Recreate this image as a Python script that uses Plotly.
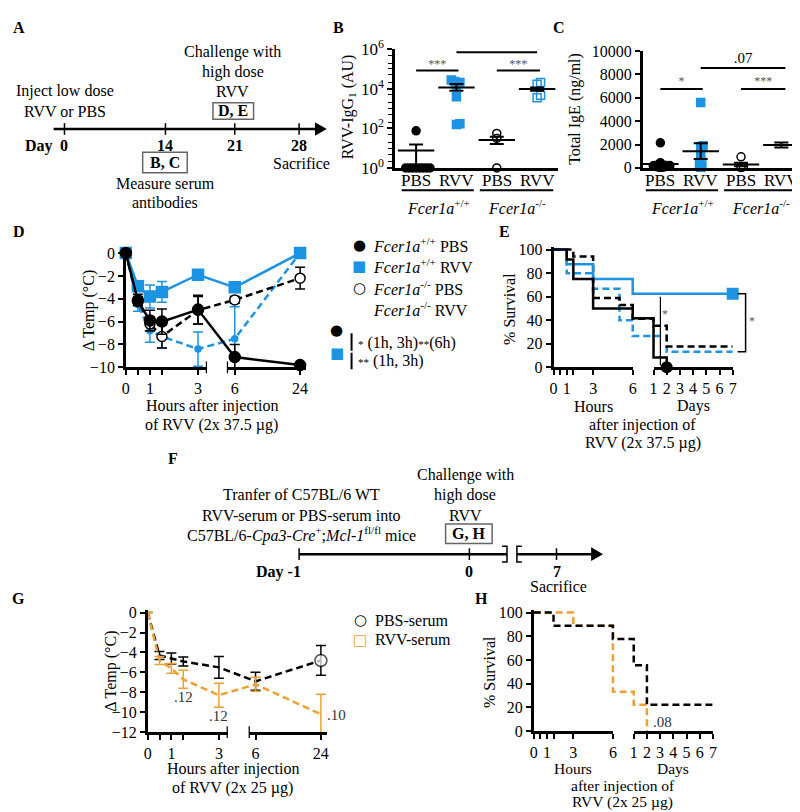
import math
import plotly.graph_objects as go

W, H = 800, 812
FONT = "Liberation Serif"
BLUE = "#1d93e3"
ORANGE = "#f0a030"
STAR = "#555555"

# ---------------- data ----------------
group_labels = ["PBS", "RVV", "PBS", "RVV"]
genotype_labels = ["<i>Fcer1a</i><sup>+/+</sup>", "<i>Fcer1a</i><sup>-/-</sup>"]

# B: RVV-IgG1 (AU)
igg1_wt_pbs = [1, 1, 1, 1, 1, 1, 1, 1, 75]
igg1_wt_rvv = [27600, 23000, 20600, 15700, 3900, 158, 170]
igg1_ko_pbs = [55, 31, 1]
igg1_ko_rvv = [20600, 17000, 4700, 3500]
igg1_mean = [7.6, 11700, 26, 9600]
igg1_upper = [15, 17500, 38, 11700]
igg1_lower = [1, 7900, 16, 7900]
igg1_p = ["***", "***", ".66"]

# C: total IgE (ng/ml)
ige_wt_pbs = [2150, 450, 250, 200, 180, 150, 120, 100, 80, 60, 50]
ige_wt_rvv = [5600, 1900, 1800, 1100, 600, 300, 250, 60]
ige_ko_pbs = [950, 100, 30]
ige_ko_rvv = []
ige_mean = [330, 1420, 290, 1950]
ige_upper = [520, 2100, 450, 2170]
ige_lower = [150, 750, 130, 1750]
ige_p = ["*", "***", ".07"]

# D: delta temperature after RVV 2x37.5 ug
d_hours = [0, 0.5, 1, 1.5, 3, 6, 24]
d_wt_pbs = [0, -4.2, -5.9, -6.0, -4.95, -9.1, -9.8]
d_wt_pbs_err = [0, 0.4, 0.9, 1.1, 1.25, 1.1, 0.15]
d_wt_rvv = [0, -2.9, -3.8, -3.4, -1.9, -3.0, 0]
d_wt_rvv_err = [0, 0.3, 1.0, 0.9, 0.2, 0.4, 0]
d_ko_pbs = [0, -4.1, -6.2, -7.3, -5.0, -4.1, -2.2]
d_ko_pbs_err = [0, 0.5, 0.6, 1.0, 1.2, 0.3, 0.95]
d_ko_rvv = [0, -4.5, -6.8, -7.3, -8.4, -7.5, 0]
d_ko_rvv_err = [0, 0.6, 1.0, 1.0, 1.5, 2.8, 0]
d_names = ["<i>Fcer1a</i><sup>+/+</sup> PBS", "<i>Fcer1a</i><sup>+/+</sup> RVV",
           "<i>Fcer1a</i><sup>-/-</sup> PBS", "<i>Fcer1a</i><sup>-/-</sup> RVV"]

# E: survival (times in hours)
e_wt_pbs_t = [0, 1, 1.5, 3, 6, 24, 48]
e_wt_pbs_s = [100, 91.7, 75, 50, 41.7, 8.3, 0]
e_wt_rvv_t = [0, 1, 3, 6, 168]
e_wt_rvv_s = [100, 87.5, 75, 62.5, 62.5]
e_ko_pbs_t = [0, 1.5, 3, 5, 6, 24, 48, 168]
e_ko_pbs_s = [100, 94.1, 58.8, 52.9, 41.2, 35.3, 17.6, 17.6]
e_ko_rvv_t = [0, 1, 3, 5, 6, 48, 168]
e_ko_rvv_s = [100, 80, 66.7, 40, 26.7, 13.3, 13.3]

# G: delta temperature after serum transfer, RVV 2x25 ug
g_hours = [0, 0.5, 1, 1.5, 3, 6, 24]
g_pbs = [0, -4.3, -4.6, -4.9, -5.5, -6.9, -4.8]
g_pbs_err = [0, 0.4, 0.55, 0.45, 1.1, 0.9, 1.5]
g_rvv = [0, -4.8, -5.6, -6.7, -8.3, -7.2, -10.2]
g_rvv_err = [0, 0.4, 0.5, 0.9, 1.2, 0.7, 2.0]
g_p = [".12", ".12", ".10"]
g_names = ["PBS-serum", "RVV-serum"]

# H: survival after serum transfer (hours)
h_pbs_t = [0, 1.5, 6, 24, 48, 168]
h_pbs_s = [100, 88.9, 77.8, 55.6, 22.2, 22.2]
h_rvv_t = [0, 3, 6, 24, 48]
h_rvv_s = [100, 88.9, 33.3, 22.2, 0]
h_p = ".08"

# timelines
a_days = ["0", "14", "21", "28"]
f_days = ["-1", "0", "7"]

# ---------------- helpers ----------------
def dx(a, b):
    return [a / W, b / W]

def dy(top, bottom):
    return [1 - bottom / H, 1 - top / H]

annotations = []
shapes = []
traces = []

def A(x, y, text, size=16, xanchor="center", yanchor="middle", color="black",
      angle=0, family=FONT, xref="paper", yref="paper"):
    if xref == "paper":
        x = x / W
    if yref == "paper":
        y = 1 - y / H
    annotations.append(dict(x=x, y=y, xref=xref, yref=yref, text=text, showarrow=False,
                            xanchor=xanchor, yanchor=yanchor, textangle=angle, borderpad=0,
                            font=dict(family=family, size=size, color=color)))

def L(x0, y0, x1, y1, w=2, color="black"):
    shapes.append(dict(type="line", xref="paper", yref="paper", x0=x0 / W, y0=1 - y0 / H,
                       x1=x1 / W, y1=1 - y1 / H, line=dict(color=color, width=w)))

def R(x0, y0, x1, y1):
    shapes.append(dict(type="rect", xref="paper", yref="paper", x0=x0 / W, y0=1 - y0 / H,
                       x1=x1 / W, y1=1 - y1 / H, line=dict(color="#666666", width=1.5)))

def path(pts, fill=None, w=2):
    d = "M " + " L ".join(f"{x / W:.5f},{1 - y / H:.5f}" for x, y in pts)
    if fill:
        d += " Z"
    shapes.append(dict(type="path", xref="paper", yref="paper", path=d,
                       fillcolor=fill if fill else "rgba(0,0,0,0)",
                       line=dict(color="black", width=0 if fill else w)))

AX = dict(showline=True, linecolor="black", linewidth=2.5, ticks="outside", ticklen=5,
          tickwidth=2, tickcolor="black", showgrid=False, zeroline=False,
          tickfont=dict(family=FONT, size=16, color="black"))

def ax(**kw):
    d = dict(AX)
    d.update(kw)
    return d

MINOR_HALF = dict(tickvals=[0.5, 1.5], ticks="outside", ticklen=5, tickwidth=2, tickcolor="black",
                  showgrid=False)

# broken-axis scales (pixel offset from axis origin)
def d_t(h):
    return 24.3 * h if h <= 3.5 else 110 + (h - 6) * 3.667

def g_t(h):
    return 24.0 * h if h <= 3.5 else 109 + (h - 6) * 3.667

def s_t(h):
    return 13.33 * h if h <= 6 else 101 + 13.33 * (h / 24 - 1)

def swarm(values, center, to_py, px_per_x, diam):
    placed, offs = [], [None] * len(values)
    for i in sorted(range(len(values)), key=lambda j: values[j]):
        yp = to_py(values[i])
        k = 0
        while True:
            cands = [0] if k == 0 else [k * diam / 2, -k * diam / 2]
            ok = None
            for c in cands:
                if all((c - xo) ** 2 + (yp - yo) ** 2 >= diam ** 2 for xo, yo in placed):
                    ok = c
                    break
            if ok is not None:
                break
            k += 1
        placed.append((ok, yp))
        offs[i] = center + ok / px_per_x
    return offs

# ---------------- panel A (timeline) ----------------
A(7, 8, "<b>A</b>")
A(54, 73, "Inject low dose")
A(54, 94, "RVV or PBS")
A(223, 33, "Challenge with")
A(223, 53, "high dose")
A(223, 73, "RVV")
R(203, 85, 244, 102)
A(223.5, 93.5, "<b>D, E</b>")
L(42, 112, 308, 112, w=2.5)
path([(306, 105), (318, 112), (306, 119)], fill="black")
a_pos = [53, 155, 225, 290]
for lab, xp in zip(a_days, a_pos):
    L(xp, 106, xp, 118, w=1.5)
    A(xp, 129, f"<b>{lab}</b>")
A(27, 129, "<b>Day</b>")
R(132, 136, 177, 157)
A(154.5, 146.5, "<b>B, C</b>")
A(155, 168, "Measure serum")
A(155, 188, "antibodies")
A(292, 147, "Sacrifice")

# ---------------- panel B ----------------
A(330, 8, "<b>B</b>")
B_ppx = (552 - 387) / (3.53 + 0.52)
B_py = lambda v: 152 - 20.33 * math.log10(v)
for i, (vals, sym, col) in enumerate([(igg1_wt_pbs, "circle", "black"), (igg1_wt_rvv, "square", BLUE),
                                      (igg1_ko_pbs, "circle-open", "black"), (igg1_ko_rvv, "square-open", BLUE)]):
    traces.append(go.Scatter(x=swarm(vals, i, B_py, B_ppx, 3.5), y=vals, mode="markers",
                             marker=dict(symbol=sym, size=8, color=col, line=dict(color=col, width=1.5)),
                             xaxis="x", yaxis="y", cliponaxis=False, showlegend=False))
traces.append(go.Scatter(x=[0, 1, 2, 3], y=igg1_mean, mode="markers",
                         marker=dict(symbol="line-ew", size=26, line=dict(width=2, color="black")),
                         error_y=dict(type="data", symmetric=False,
                                      array=[u - m for u, m in zip(igg1_upper, igg1_mean)],
                                      arrayminus=[m - l for m, l in zip(igg1_mean, igg1_lower)],
                                      color="black", thickness=2, width=7),
                         xaxis="x", yaxis="y", cliponaxis=False, showlegend=False))
for (x0, x1), yv, lab, ty in [((0, 1.05), 83000, igg1_p[0], 150000), ((2, 3.07), 83000, igg1_p[1], 150000),
                              ((1, 3), 700000, igg1_p[2], 1.6e6)]:
    traces.append(go.Scatter(x=[x0, x1], y=[yv, yv], mode="lines", line=dict(color="black", width=2),
                             xaxis="x", yaxis="y", cliponaxis=False, showlegend=False))
    traces.append(go.Scatter(x=[(x0 + x1) / 2], y=[ty], mode="text", text=[lab],
                             textfont=dict(family=FONT, size=12 if "*" in lab else 15,
                                           color=STAR if "*" in lab else "black"),
                             xaxis="x", yaxis="y", cliponaxis=False, showlegend=False))
A(340, 89, "RVV-IgG<sub>1</sub> (AU)", angle=-90)

# ---------------- panel C ----------------
A(553, 8, "<b>C</b>")
C_ppx = (793 - 637) / (3.39 + 0.44)
C_py = lambda v: 152 - 0.012 * v
for i, (vals, sym, col) in enumerate([(ige_wt_pbs, "circle", "black"), (ige_wt_rvv, "square", BLUE),
                                      (ige_ko_pbs, "circle-open", "black"), (ige_ko_rvv, "square-open", BLUE)]):
    if not vals:
        continue
    traces.append(go.Scatter(x=swarm(vals, i, C_py, C_ppx, 2.4), y=vals, mode="markers",
                             marker=dict(symbol=sym, size=8, color=col, line=dict(color=col, width=1.5)),
                             xaxis="x2", yaxis="y2", cliponaxis=False, showlegend=False))
traces.append(go.Scatter(x=[0, 1, 2, 3], y=ige_mean, mode="markers",
                         marker=dict(symbol="line-ew", size=26, line=dict(width=2, color="black")),
                         error_y=dict(type="data", symmetric=False,
                                      array=[u - m for u, m in zip(ige_upper, ige_mean)],
                                      arrayminus=[m - l for m, l in zip(ige_mean, ige_lower)],
                                      color="black", thickness=2, width=7),
                         xaxis="x2", yaxis="y2", cliponaxis=False, showlegend=False))
for (x0, x1), yv, lab, ty in [((0, 1.05), 6750, ige_p[0], 7350), ((2, 3.1), 6750, ige_p[1], 7350),
                              ((1, 3.1), 8560, ige_p[2], 9300)]:
    traces.append(go.Scatter(x=[x0, x1], y=[yv, yv], mode="lines", line=dict(color="black", width=2),
                             xaxis="x2", yaxis="y2", cliponaxis=False, showlegend=False))
    traces.append(go.Scatter(x=[(x0 + x1) / 2], y=[ty], mode="text", text=[lab],
                             textfont=dict(family=FONT, size=12 if "*" in lab else 15,
                                           color=STAR if "*" in lab else "black"),
                             xaxis="x2", yaxis="y2", cliponaxis=False, showlegend=False))
A(568, 91, "Total IgE (ng/ml)", angle=-90)

# category labels, underlines, genotype labels (B and C)
for xa in ["x", "x2"]:
    for i, lab in enumerate(group_labels):
        annotations.append(dict(x=i, y=1 - 165 / H, xref=xa, yref="paper", text=lab, showarrow=False,
                                yanchor="middle", borderpad=0, font=dict(family=FONT, size=17, color="black")))
    for (g0, g1), gx, lab in [((-0.36, 1.43), 0.55, genotype_labels[0]), ((1.58, 3.4), 2.5, genotype_labels[1])]:
        shapes.append(dict(type="line", xref=xa, yref="paper", x0=g0, x1=g1, y0=1 - 175 / H, y1=1 - 175 / H,
                           line=dict(color="black", width=2)))
        annotations.append(dict(x=gx, y=1 - 192 / H, xref=xa, yref="paper", text=lab, showarrow=False,
                                yanchor="middle", borderpad=0, font=dict(family=FONT, size=16, color="black")))

# ---------------- panel D ----------------
A(7, 217, "<b>D</b>")
dX = [d_t(h) for h in d_hours]
for vals, err, col, dash, sym, fill, msize in [
        (d_ko_rvv, d_ko_rvv_err, BLUE, "7px,4px", "circle", BLUE, 0),
        (d_ko_pbs, d_ko_pbs_err, "black", "7px,4px", "circle", "white", 10),
        (d_wt_rvv, d_wt_rvv_err, BLUE, "solid", "square", BLUE, 11),
        (d_wt_pbs, d_wt_pbs_err, "black", "solid", "circle", "black", 11)]:
    traces.append(go.Scatter(x=dX, y=vals, mode="lines+markers",
                             line=dict(color=col, width=2.5, dash=dash),
                             marker=dict(symbol=sym, size=msize, color=fill, line=dict(color=col, width=1.5)),
                             error_y=dict(type="data", array=err, color=col, thickness=1.5, width=5),
                             xaxis="x3", yaxis="y3", cliponaxis=False, showlegend=False))
for xa in ["x4", "x5"]:
    traces.append(go.Scatter(x=[None], y=[None], xaxis=xa, yaxis="y3", showlegend=False))
shapes.append(dict(type="line", xref="x4", yref="paper", x0=3.374, x1=3.374, y0=1 - 351 / H, y1=1 - 363 / H,
                   line=dict(color="black", width=2.5)))
shapes.append(dict(type="line", xref="x5", yref="paper", x0=3.82, x1=3.82, y0=1 - 351 / H, y1=1 - 363 / H,
                   line=dict(color="black", width=2.5)))
A(78, 299, "Δ Temp (°C)", angle=-90)
A(202, 397, "Hours after injection")
A(202, 416, "of RVV (2x 37.5 µg)")
# key
for yk, glyph, gcol, name in zip([231, 253, 275, 297], ["●", "■", "○", ""],
                                 ["black", BLUE, "black", "black"], d_names):
    if glyph:
        A(351, yk, glyph, size=15, family="DejaVu Sans", color=gcol)
    A(364, yk, name, xanchor="left")
A(328, 319, "●", size=15, family="DejaVu Sans")
A(328, 342, "■", size=15, family="DejaVu Sans", color=BLUE)
L(343, 322, 343, 340, w=2)
L(343, 342, 343, 359, w=2)
A(348, 332, '<span style="font-size:11px">*</span> (1h, 3h)<span style="font-size:11px">**</span>(6h)',
  xanchor="left")
A(348, 351, '<span style="font-size:11px">**</span> (1h, 3h)', xanchor="left")

# ---------------- panel E ----------------
A(497, 217, "<b>E</b>")
for t, s, col, dash in [(e_ko_rvv_t, e_ko_rvv_s, BLUE, "7px,4px"), (e_ko_pbs_t, e_ko_pbs_s, "black", "7px,4px"),
                        (e_wt_rvv_t, e_wt_rvv_s, BLUE, "solid"), (e_wt_pbs_t, e_wt_pbs_s, "black", "solid")]:
    traces.append(go.Scatter(x=[s_t(v) for v in t], y=s, mode="lines",
                             line=dict(shape="hv", color=col, width=2.5, dash=dash),
                             xaxis="x6", yaxis="y6", showlegend=False))
traces.append(go.Scatter(x=[s_t(e_wt_pbs_t[-1])], y=[e_wt_pbs_s[-1]], mode="markers",
                         marker=dict(symbol="circle", size=12, color="black"),
                         xaxis="x6", yaxis="y6", cliponaxis=False, showlegend=False))
traces.append(go.Scatter(x=[s_t(e_wt_rvv_t[-1])], y=[e_wt_rvv_s[-1]], mode="markers",
                         marker=dict(symbol="square", size=12, color=BLUE),
                         xaxis="x6", yaxis="y6", cliponaxis=False, showlegend=False))
for xa in ["x7", "x8"]:
    traces.append(go.Scatter(x=[None], y=[None], xaxis=xa, yaxis="y6", showlegend=False))
traces.append(go.Scatter(x=[s_t(36.5), s_t(36.5)], y=[1.6, 60], mode="lines", line=dict(color="black", width=1.2),
                         xaxis="x6", yaxis="y6", showlegend=False))
annotations.append(dict(x=s_t(36.5) + 5, y=45, xref="x6", yref="y6", text="*", showarrow=False,
                        font=dict(family=FONT, size=12, color=STAR)))
shapes.append(dict(type="path", xref="paper", yref="y6",
                   path=f"M {733 / W},62.5 L {741 / W},62.5 L {741 / W},13.3 L {733 / W},13.3",
                   line=dict(color="black", width=1.5)))
A(747, 309, "*", size=12, color=STAR)
A(503, 297, "% Survival", angle=-90)
A(587, 397, "Hours")
A(688, 397, "Days")
A(637, 416, "after injection of")
A(637, 435, "RVV (2x 37.5 µg)")

# ---------------- panel F (timeline) ----------------
A(163, 451, "<b>F</b>")
A(292, 488, "Tranfer of C57BL/6 WT")
A(292, 509, "RVV-serum or PBS-serum into")
A(292, 529, "C57BL/6-<i>Cpa3-Cre</i><sup>+</sup>;<i>Mcl-1</i><sup>fl/fl</sup> mice")
A(458, 468, "Challenge with")
A(458, 488, "high dose")
A(458, 509, "RVV")
R(438, 518, 485, 538)
A(461.5, 528, "<b>G, H</b>")
L(290, 549, 500, 549, w=2.5)
path([(495, 541), (500, 541), (500, 557), (495, 557)], w=1.5)
path([(515, 541), (510, 541), (510, 557), (515, 557)], w=1.5)
L(510, 549, 587, 549, w=2.5)
path([(585, 542), (597, 549), (585, 556)], fill="black")
f_pos = [290, 462, 550]
for lab, xp in zip(f_days, f_pos):
    L(xp, 543, xp, 555, w=1.5)
    if lab != f_days[0]:
        A(xp, 567, f"<b>{lab}</b>")
A(269, 567, f"<b>Day {f_days[0]}</b>")
A(552, 582, "Sacrifice")

# ---------------- panel G ----------------
A(7, 595, "<b>G</b>")
gX = [g_t(h) for h in g_hours]
traces.append(go.Scatter(x=gX, y=g_pbs, mode="lines+markers", line=dict(color="black", width=2.5, dash="7px,4px"),
                         marker=dict(symbol="circle", size=[0] * (len(g_hours) - 1) + [12], color="white",
                                     line=dict(color="black", width=1.5)),
                         error_y=dict(type="data", array=g_pbs_err, color="black", thickness=1.5, width=5),
                         xaxis="x9", yaxis="y9", cliponaxis=False, showlegend=False))
traces.append(go.Scatter(x=gX, y=g_rvv, mode="lines", line=dict(color=ORANGE, width=2.5, dash="7px,4px"),
                         error_y=dict(type="data", array=g_rvv_err, color=ORANGE, thickness=1.5, width=5),
                         xaxis="x9", yaxis="y9", cliponaxis=False, showlegend=False))
for yk, glyph, gcol, name in zip([617, 637], ["○", "□"], ["black", ORANGE], g_names):
    A(352, yk, glyph, size=15, family="DejaVu Sans", color=gcol)
    A(366, yk, name, xanchor="left")
for xa in ["x10", "x11"]:
    traces.append(go.Scatter(x=[None], y=[None], xaxis=xa, yaxis="y9", showlegend=False))
for (h, yv, lab) in [(1.5, -8.5, g_p[0]), (3, -10.4, g_p[1])]:
    annotations.append(dict(x=g_t(h), y=yv, xref="x9", yref="y9", text=lab, showarrow=False,
                            font=dict(family=FONT, size=15, color="#333333")))
annotations.append(dict(x=g_t(24) + 4, y=-10.3, xref="x9", yref="y9", text=g_p[2], showarrow=False,
                        xanchor="left", font=dict(family=FONT, size=15, color="#333333")))
shapes.append(dict(type="line", xref="x10", yref="paper", x0=3.375, x1=3.375, y0=1 - 726 / H, y1=1 - 738 / H,
                   line=dict(color="black", width=2.5)))
shapes.append(dict(type="line", xref="x11", yref="paper", x0=4.09, x1=4.09, y0=1 - 726 / H, y1=1 - 738 / H,
                   line=dict(color="black", width=2.5)))
A(100, 670, "Δ Temp (°C)", angle=-90)
A(223, 770, "Hours after injection")
A(223, 789, "of RVV (2x 25 µg)")

# ---------------- panel H ----------------
A(474, 595, "<b>H</b>")
for t, s, col in [(h_rvv_t, h_rvv_s, ORANGE), (h_pbs_t, h_pbs_s, "black")]:
    traces.append(go.Scatter(x=[s_t(v) for v in t], y=s, mode="lines",
                             line=dict(shape="hv", color=col, width=2.5, dash="7px,4px"),
                             xaxis="x12", yaxis="y12", showlegend=False))
for xa in ["x13", "x14"]:
    traces.append(go.Scatter(x=[None], y=[None], xaxis=xa, yaxis="y12", showlegend=False))
annotations.append(dict(x=s_t(48) + 4, y=8, xref="x12", yref="y12", text=h_p, showarrow=False,
                        xanchor="left", font=dict(family=FONT, size=15, color="#333333")))
A(483, 670, "% Survival", angle=-90)
A(567, 769.5, "Hours", size=15.5)
A(668, 769.5, "Days", size=15.5)
A(617, 787, "after injection of", size=15.5)
A(617, 804, "RVV (2x 25 µg)", size=15.5)

# ---------------- layout ----------------
seg_ticks = dict(tickvals=[0, 1, 3, 6], minor=MINOR_HALF)
layout = dict(
    width=W, height=H, margin=dict(l=0, r=0, t=0, b=0),
    paper_bgcolor="white", plot_bgcolor="rgba(0,0,0,0)",
    font=dict(family=FONT, size=16, color="black"),
    showlegend=False,
    xaxis=ax(domain=dx(387, 552), range=[-0.52, 3.53], anchor="y", showticklabels=False, ticks=""),
    yaxis=ax(domain=dy(30, 152), type="log", range=[0, 6], anchor="x", tickvals=[1, 1e2, 1e4, 1e6],
             ticktext=["10<sup>0</sup>", "10<sup>2</sup>", "10<sup>4</sup>", "10<sup>6</sup>"],
             tickfont=dict(family=FONT, size=17, color="black"),
             minor=dict(ticks="outside", ticklen=4, tickwidth=1.2, tickcolor="black", showgrid=False)),
    xaxis2=ax(domain=dx(637, 793), range=[-0.44, 3.39], anchor="y2", showticklabels=False, ticks=""),
    yaxis2=ax(domain=dy(32, 152), range=[0, 10000], anchor="x2", tickvals=[0, 2000, 4000, 6000, 8000, 10000],
              tickformat="d"),
    xaxis3=dict(domain=dx(115, 297), range=[0, 182], anchor="y3", visible=False),
    yaxis3=ax(domain=dy(236, 357), range=[-10, 0.3], anchor="x3", tickvals=[0, -2, -4, -6, -8, -10]),
    xaxis4=ax(domain=dx(115, 197), range=[0, 3.374], anchor="y3", tickvals=[0, 1, 3], minor=MINOR_HALF),
    xaxis5=ax(domain=dx(217, 297), range=[3.82, 25.63], anchor="y3", tickvals=[6, 24]),
    xaxis6=dict(domain=dx(547, 728), range=[0, 181], anchor="y6", visible=False),
    yaxis6=ax(domain=dy(233.6, 357), range=[0, 102], anchor="x6", tickvals=[0, 20, 40, 60, 80, 100]),
    xaxis7=ax(domain=dx(547, 627), range=[0, 6], anchor="y6", **seg_ticks),
    xaxis8=ax(domain=dx(648, 728), range=[1, 7], anchor="y6", tickvals=[1, 2, 3, 4, 5, 6, 7]),
    xaxis9=dict(domain=dx(137, 318), range=[0, 181], anchor="y9", visible=False),
    yaxis9=ax(domain=dy(606, 732), range=[-12, 0.3], anchor="x9", tickvals=[0, -2, -4, -6, -8, -10, -12]),
    xaxis10=ax(domain=dx(137, 218), range=[0, 3.375], anchor="y9", tickvals=[0, 1, 3], minor=MINOR_HALF),
    xaxis11=ax(domain=dx(239, 318), range=[4.09, 25.64], anchor="y9", tickvals=[6, 24]),
    xaxis12=dict(domain=dx(527, 708), range=[0, 181], anchor="y12", visible=False),
    yaxis12=ax(domain=dy(606.6, 731), range=[0, 102], anchor="x12", tickvals=[0, 20, 40, 60, 80, 100]),
    xaxis13=ax(domain=dx(527, 607), range=[0, 6], anchor="y12", **seg_ticks),
    xaxis14=ax(domain=dx(628, 708), range=[1, 7], anchor="y12", tickvals=[1, 2, 3, 4, 5, 6, 7]),
    annotations=annotations, shapes=shapes,
)

fig = go.Figure(data=traces, layout=layout)
fig.write_html("out.html")
